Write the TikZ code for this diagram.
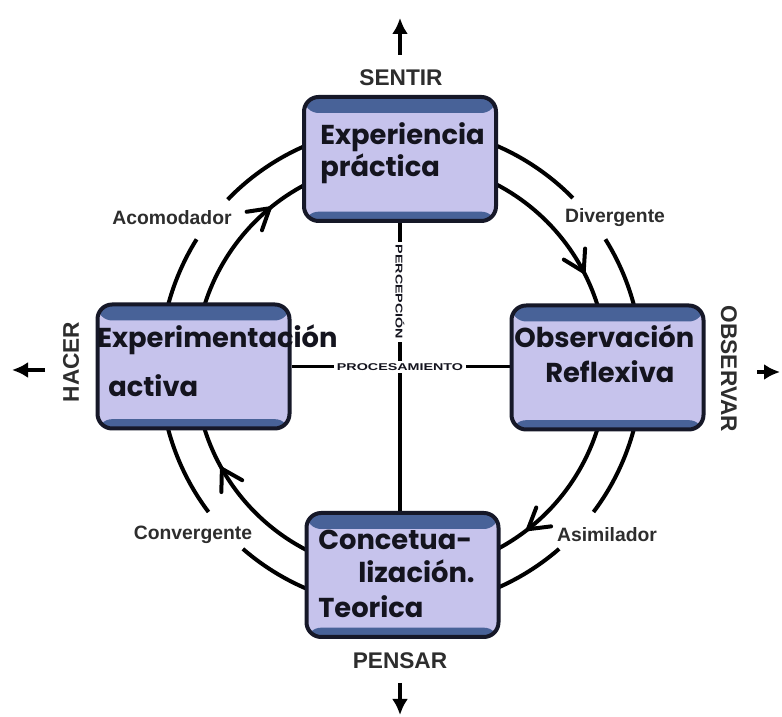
\documentclass[tikz,border=0pt]{standalone}
\usepackage{fontspec}
\setmainfont{Liberation Sans}
\newfontfamily\boxfont{Poppins}
\newfontfamily\widefont{Liberation Sans}[FakeStretch=1.45]
\usetikzlibrary{arrows.meta,decorations.markings,backgrounds}
\definecolor{lav}{RGB}{198,195,236}
\definecolor{bandc}{RGB}{72,98,152}
\definecolor{edgec}{RGB}{22,24,40}
\definecolor{ink}{RGB}{20,20,30}
\definecolor{labgray}{RGB}{45,45,45}
\begin{document}
\begin{tikzpicture}[x=0.75pt,y=0.75pt,
  stagebox/.style={draw=edgec, line width=3pt, fill=lav, rounded corners=11pt,
    minimum width=144pt, minimum height=93pt, inner sep=0pt,
    path picture={
      \fill[bandc] ([yshift=2pt]path picture bounding box.north west) rectangle ([yshift=-12pt]path picture bounding box.north east);
      \fill[bandc] ([yshift=-2pt]path picture bounding box.south west) rectangle ([yshift=7pt]path picture bounding box.south east);
    }},
  stagetext/.style={anchor=base west, inner sep=0pt, text=ink,
    font=\boxfont\bfseries\fontsize{20.5}{24}\selectfont},
  caplab/.style={inner sep=1pt, text=labgray, font=\bfseries\fontsize{17}{18}\selectfont},
  flowlab/.style={inner sep=1pt, text=labgray, font=\bfseries\fontsize{14.5}{17}\selectfont},
  axislab/.style={inner sep=2pt, fill=white, text=ink, font=\widefont\bfseries\fontsize{7.4}{8}\selectfont},
  arcline/.style={line width=3pt, draw=black},
  flowarc/.style={arcline, postaction={decorate},
    decoration={markings, mark=at position #1 with {
      \draw[line width=3pt, line cap=round, line join=miter] (-15pt,9pt) -- (0pt,0pt) -- (-15pt,-9pt);}}},
  axisline/.style={line width=2.6pt, draw=black},
  bigarrow/.style={line width=2.4pt, -{Latex[length=12pt,width=12pt]}}
]
\useasboundingbox (0,0) rectangle (782,717);

% boxes
\node[stagebox] (exp) at (400,558) {};
\node[stagebox] (act) at (193.5,350.5) {};
\node[stagebox] (obs) at (607.5,349.5) {};
\node[stagebox] (con) at (402.5,142) {};

\coordinate (C) at (401,350);

\begin{pgfonlayer}{background}
\fill[white] (0,0) rectangle (782,717);
% outer arcs
\draw[arcline] ([shift={(70:180.75pt)}]C) arc[start angle=70,end angle=44.5,radius=180.75pt];
\draw[arcline] ([shift={(32:180.75pt)}]C) arc[start angle=32,end angle=10,radius=180.75pt];
\draw[arcline] ([shift={(110:180.75pt)}]C) arc[start angle=110,end angle=136,radius=180.75pt];
\draw[arcline] ([shift={(148:180.75pt)}]C) arc[start angle=148,end angle=170,radius=180.75pt];
\draw[arcline] ([shift={(190:180.75pt)}]C) arc[start angle=190,end angle=217,radius=180.75pt];
\draw[arcline] ([shift={(229:180.75pt)}]C) arc[start angle=229,end angle=250,radius=180.75pt];
\draw[arcline] ([shift={(-10:180.75pt)}]C) arc[start angle=-10,end angle=-37,radius=180.75pt];
\draw[arcline] ([shift={(-49:180.75pt)}]C) arc[start angle=-49,end angle=-70,radius=180.75pt];
% inner arcs with arrows
\draw[flowarc=0.74] ([shift={(66:154.5pt)}]C) arc[start angle=66,end angle=14,radius=154.5pt];
\draw[flowarc=0.73] ([shift={(-14:154.5pt)}]C) arc[start angle=-14,end angle=-66,radius=154.5pt];
\draw[flowarc=0.70] ([shift={(246:154.5pt)}]C) arc[start angle=246,end angle=194,radius=154.5pt];
\draw[flowarc=0.70] ([shift={(166:154.5pt)}]C) arc[start angle=166,end angle=114,radius=154.5pt];
% axes
\draw[axisline] (exp.south) -- (exp.south |- con.north);
\draw[axisline] (act.east) -- (act.east -| obs.west);
\end{pgfonlayer}

% axis labels
\node[axislab, rotate=-90] (perc) at (400,425) {PERCEPCIÓN};
\node[axislab] (proc) at (400,350) {PROCESAMIENTO};

% box texts
\node[stagetext] (t1a) at (320,572) {Experiencia};
\node[stagetext] (t1b) at (320,540) {práctica};
\node[stagetext] (t2a) at (97,369) {Experimentación};
\node[stagetext] (t2b) at (108,320) {activa};
\node[stagetext] (t3a) at (514,369) {Observación};
\node[stagetext] (t3b) at (545,334) {Reflexiva};
\node[stagetext] (t4a) at (318,167) {Concetua-};
\node[stagetext] (t4b) at (358,134) {lización.};
\node[stagetext] (t4c) at (318,99) {Teorica};

% outer labels
\node[caplab] (sentir) at (401,639) {SENTIR};
\node[caplab] (pensar) at (400,56) {PENSAR};
\node[caplab, rotate=90] (hacer) at (71,355) {HACER};
\node[caplab, rotate=-90] (observar) at (729,348) {OBSERVAR};

% flow labels
\node[flowlab] (acom) at (172,499) {Acomodador};
\node[flowlab] (div) at (615,499) {Divergente};
\node[flowlab] (conv) at (193,182) {Convergente};
\node[flowlab] (asim) at (607,182) {Asimilador};

% direction arrows
\coordinate (upS) at (400,662); \coordinate (upE) at (400,699);
\coordinate (dnS) at (400,34);  \coordinate (dnE) at (400,2);
\coordinate (lfS) at (45,347);  \coordinate (lfE) at (12,347);
\coordinate (rtS) at (757,345); \coordinate (rtE) at (780,345);
\draw[bigarrow] (upS) -- (upE);
\draw[bigarrow] (dnS) -- (dnE);
\draw[bigarrow] (lfS) -- (lfE);
\draw[bigarrow] (rtS) -- (rtE);
\end{tikzpicture}
\end{document}
